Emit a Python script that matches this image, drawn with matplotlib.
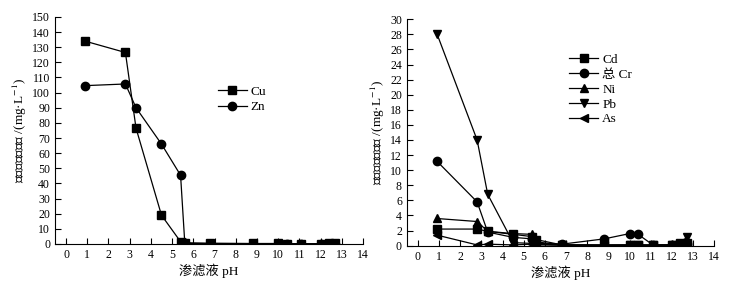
import matplotlib
matplotlib.use('Agg')
import matplotlib.pyplot as plt

plt.rcParams['font.family'] = ['Liberation Serif', 'Noto Sans CJK SC']
plt.rcParams['mathtext.fontset'] = 'stix'

# leachate pH of each sample
ph = [0.9, 2.8, 3.3, 4.5, 5.4, 5.6, 6.8, 8.8, 10.0, 10.4, 11.1, 12.0, 12.4, 12.7]

# left panel (mg/L)
cu = [134, 126.5, 76.5, 19, 1.5, 0.8, 0.5, 0.3, 0.3, 0.2, 0.2, 0.2, 0.3, 0.5]
zn = [104.6, 105.7, 90, 66, 45.4, 0.3, 0.2, 0.1, 0.1, 0.1, 0.1, 0.1, 0.2, 0.2]

# right panel (mg/L)
cd = [2.2, 2.2, 1.9, 1.5, 1.2, 0.8, 0.1, 0.05, 0.05, 0.05, 0.05, 0.1, 0.4, 0.3]
cr = [11.2, 5.8, 1.8, 1.1, 0.9, 0.3, 0.2, 0.9, 1.6, 1.5, 0.1, 0.1, 0.2, 0.2]
ni = [3.6, 3.2, 1.9, 1.6, 1.5, 0.5, 0.1, 0.05, 0.1, 0.1, 0.05, 0.05, 0.1, 0.1]
pb = [28.1, 14.0, 6.8, 0.4, 0.3, 0.2, 0.1, 0.1, 0.1, 0.1, 0.1, 0.1, 0.2, 1.2]
as_ = [1.4, 0.1, 0.2, 0.1, 0.2, 0.1, 0.05, 0.05, 0.05, 0.05, 0.05, 0.05, 0.1, 0.1]

xticks = list(range(0, 15))

fig = plt.figure(figsize=(7.41, 2.87), dpi=100)
ax1 = fig.add_axes([0.0742, 0.150, 0.4157, 0.791])
ax2 = fig.add_axes([0.549, 0.144, 0.415, 0.789])

ylab = '重金属浸出浓度 /(mg·L$^{-1}$)'

ax1.plot(ph, cu, 's-', color='black', lw=0.9, ms=5.5, label='Cu')
ax1.plot(ph, zn, 'o-', color='black', lw=0.9, ms=6, label='Zn')
ax1.set_ylim(0, 150)
ax1.set_yticks(range(0, 151, 10))

ax2.plot(ph, cd, 's-', color='black', lw=0.9, ms=5.5, label='Cd')
ax2.plot(ph, cr, 'o-', color='black', lw=0.9, ms=6, label='总 Cr')
ax2.plot(ph, ni, '^-', color='black', lw=0.9, ms=6, label='Ni')
ax2.plot(ph, pb, 'v-', color='black', lw=0.9, ms=6, label='Pb')
ax2.plot(ph, as_, '<-', color='black', lw=0.9, ms=6, label='As')
ax2.set_ylim(0, 30)
ax2.set_yticks(range(0, 31, 2))

for ax in (ax1, ax2):
    ax.set_xlim(-0.52, 14)
    ax.set_xticks(xticks)
    ax.spines['top'].set_visible(False)
    ax.spines['right'].set_visible(False)
    ax.tick_params(direction='in', labelsize=8.5, length=4, width=0.8)
    ax.set_xlabel('渗滤液 pH', fontsize=9.5, labelpad=2)
    ax.set_ylabel(ylab, fontsize=9.5, labelpad=2)

ax1.legend(loc='upper left', bbox_to_anchor=(0.49, 0.75), frameon=False,
           fontsize=9.5, handlelength=2.2, handletextpad=0.3, labelspacing=0.25)
ax2.legend(loc='upper left', bbox_to_anchor=(0.49, 0.9), frameon=False,
           fontsize=9.5, handlelength=2.2, handletextpad=0.3, labelspacing=0.2)

fig.savefig('out.png', dpi=100)
